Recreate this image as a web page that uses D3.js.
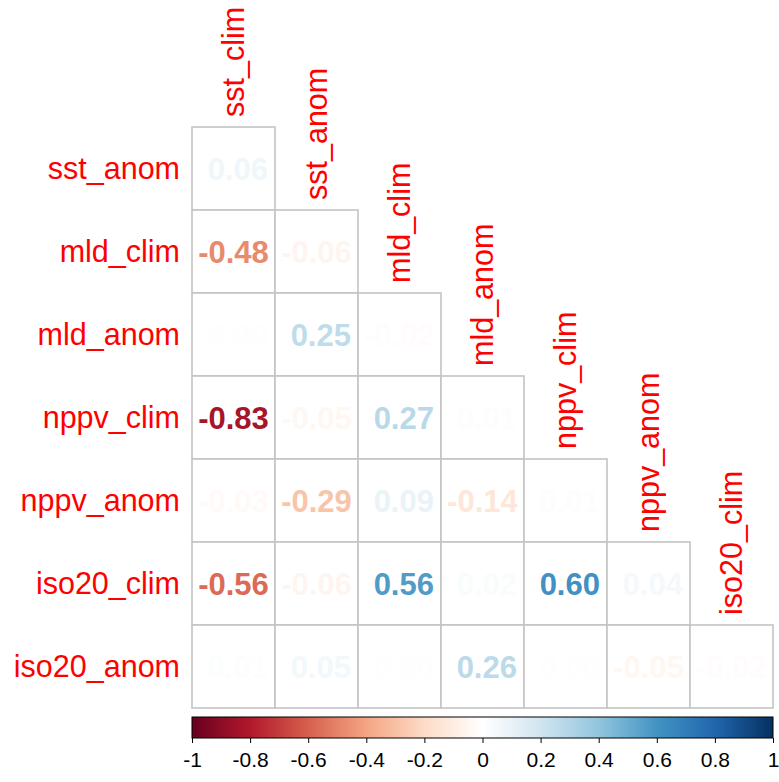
<!DOCTYPE html>
<html>
<head>
<meta charset="utf-8">
<script src="https://cdn.jsdelivr.net/npm/d3@7"></script>
<style>
  body { margin: 0; background: #fff; }
  text { font-family: "Liberation Sans", Arial, sans-serif; }
</style>
</head>
<body>
<div id="chart"></div>
<script>
// Row / column variable names (lower triangle, no diagonal)
const rowNames = ["sst_anom", "mld_clim", "mld_anom", "nppv_clim", "nppv_anom", "iso20_clim", "iso20_anom"];
const colNames = ["sst_clim", "sst_anom", "mld_clim", "mld_anom", "nppv_clim", "nppv_anom", "iso20_clim"];

// correlation values, row by row (the "0.00" cells keep a faint tint, so a tiny sign is kept)
const corrRows = [
  [0.06],
  [-0.48, -0.06],
  [0.003, 0.25, -0.02],
  [-0.83, -0.05, 0.27, 0.01],
  [-0.03, -0.29, 0.09, -0.14, 0.01],
  [-0.56, -0.06, 0.56, 0.02, 0.60, 0.04],
  [0.01, 0.05, -0.003, 0.26, -0.003, -0.05, -0.02]
];

const legendTicks = [-1, -0.8, -0.6, -0.4, -0.2, 0, 0.2, 0.4, 0.6, 0.8, 1];

// RdBu palette like corrplot COL2
const paletteColors = ["#67001F", "#B2182B", "#D6604D", "#F4A582", "#FDDBC7", "#FFFFFF",
                       "#D1E5F0", "#92C5DE", "#4393C3", "#2166AC", "#053061"];

const width = 779, height = 782;
const gridLeft = 192, gridTop = 127, cell = 83;
const labelSize = 30.5, numSize = 31;

const svg = d3.select("#chart").append("svg")
  .attr("width", width)
  .attr("height", height);

const color = d3.scaleLinear()
  .domain(d3.range(11).map(i => -1 + i * 0.2))
  .range(paletteColors);

// corrplot bins colours into 200 steps, so near-zero values are never pure white
function cellColor(v) {
  const bins = 200;
  let k = Math.floor((v + 1) / 2 * bins);
  k = Math.max(0, Math.min(bins - 1, k));
  return color(-1 + 2 * k / (bins - 1));
}

function fmt(v) {
  const s = Math.abs(v) < 0.005 ? "0.00" : v.toFixed(2);
  return s.startsWith("-") ? s : " " + s;
}

const x = d3.scaleBand().domain(colNames).range([gridLeft, gridLeft + cell * colNames.length]);
const y = d3.scaleBand().domain(rowNames).range([gridTop, gridTop + cell * rowNames.length]);

// flatten into cells
const cells = [];
corrRows.forEach((row, i) => {
  row.forEach((v, j) => cells.push({ row: rowNames[i], col: colNames[j], value: v }));
});

// cell borders
svg.selectAll("rect.cell")
  .data(cells)
  .join("rect")
  .attr("class", "cell")
  .attr("x", d => x(d.col))
  .attr("y", d => y(d.row))
  .attr("width", x.bandwidth())
  .attr("height", y.bandwidth())
  .attr("fill", "#fff")
  .attr("stroke", "#c4c4c4")
  .attr("stroke-width", 1.6);

// numbers
svg.selectAll("text.num")
  .data(cells)
  .join("text")
  .attr("class", "num")
  .attr("x", d => x(d.col) + x.bandwidth() / 2)
  .attr("y", d => y(d.row) + y.bandwidth() / 2)
  .attr("dy", "0.36em")
  .attr("text-anchor", "middle")
  .attr("font-size", numSize)
  .attr("font-weight", "bold")
  .style("white-space", "pre")
  .attr("fill", d => cellColor(d.value))
  .text(d => fmt(d.value));

// row labels
svg.selectAll("text.rowlab")
  .data(rowNames)
  .join("text")
  .attr("class", "rowlab")
  .attr("x", gridLeft - 12)
  .attr("y", d => y(d) + y.bandwidth() / 2)
  .attr("dy", "0.36em")
  .attr("text-anchor", "end")
  .attr("font-size", labelSize)
  .attr("fill", "#ff0000")
  .text(d => d);

// column labels, rotated, sitting above the first cell of each column
svg.selectAll("text.collab")
  .data(colNames)
  .join("text")
  .attr("class", "collab")
  .attr("transform", (d, j) => {
    const cx = x(d) + x.bandwidth() / 2;
    const cy = y(rowNames[j]) - 10;
    return `translate(${cx},${cy}) rotate(-90)`;
  })
  .attr("dy", "0.36em")
  .attr("text-anchor", "start")
  .attr("font-size", labelSize)
  .attr("fill", "#ff0000")
  .text(d => d);

// colour legend
const legX0 = gridLeft, legX1 = gridLeft + cell * colNames.length;
const legY = 717, legH = 21;
const lx = d3.scaleLinear().domain([-1, 1]).range([legX0, legX1]);

const defs = svg.append("defs");
const grad = defs.append("linearGradient").attr("id", "legGrad");
paletteColors.forEach((c, i) => {
  grad.append("stop").attr("offset", (i * 10) + "%").attr("stop-color", c);
});

svg.append("rect")
  .attr("x", legX0)
  .attr("y", legY)
  .attr("width", legX1 - legX0)
  .attr("height", legH)
  .attr("fill", "url(#legGrad)")
  .attr("stroke", "#000")
  .attr("stroke-width", 1);

const legAxis = svg.append("g")
  .attr("transform", `translate(0,${legY + legH})`)
  .call(d3.axisBottom(lx).tickValues(legendTicks).tickSize(5).tickSizeOuter(0)
    .tickFormat(d => String(+d.toFixed(1))));
legAxis.select(".domain").remove();
legAxis.selectAll("line").attr("stroke", "#000");
legAxis.selectAll("text")
  .attr("font-size", 21)
  .attr("fill", "#000")
  .attr("y", 14)
  .attr("dy", "0.71em")
  .style("font-family", "'Liberation Sans', Arial, sans-serif");
</script>
</body>
</html>
